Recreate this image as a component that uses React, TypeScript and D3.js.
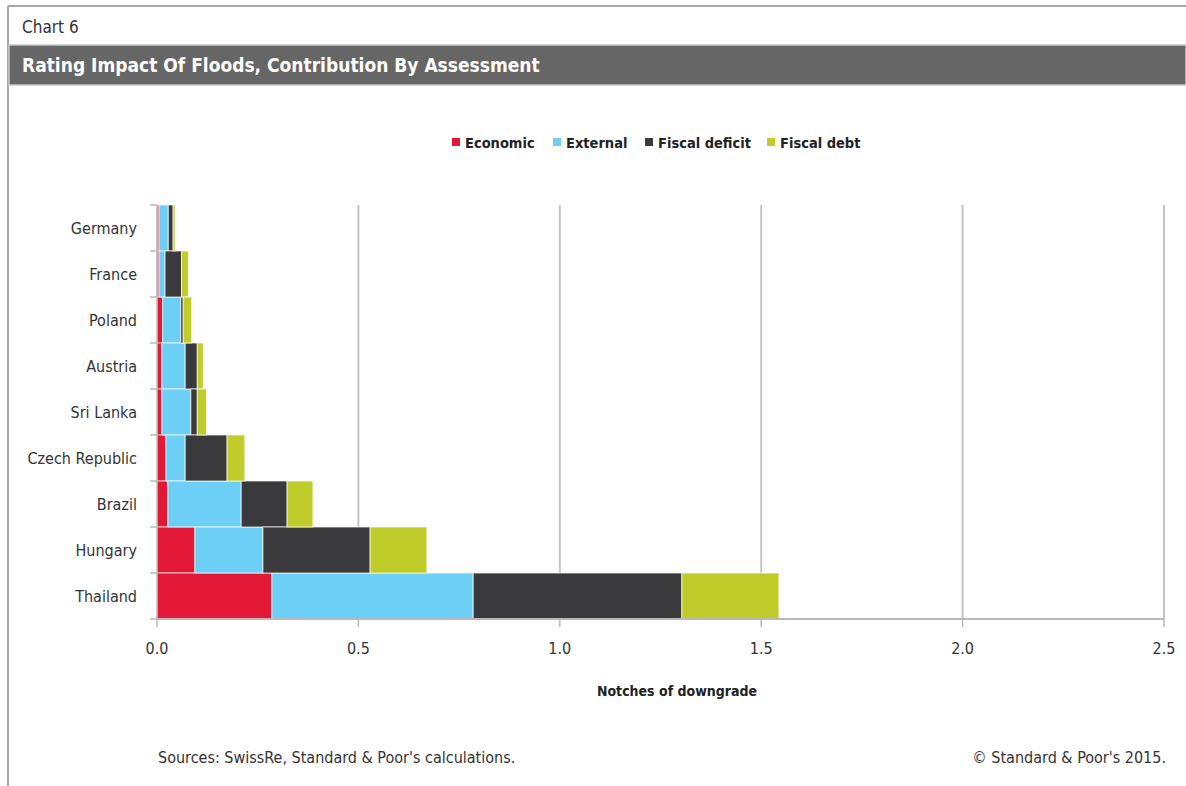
import React from "react";
import * as d3 from "d3";

const countries = ["Germany", "France", "Poland", "Austria", "Sri Lanka", "Czech Republic", "Brazil", "Hungary", "Thailand"];
const economic = [0.005, 0.005, 0.014, 0.012, 0.012, 0.022, 0.027, 0.094, 0.285];
const external = [0.023, 0.015, 0.045, 0.058, 0.072, 0.048, 0.182, 0.169, 0.5];
const fiscalDeficit = [0.012, 0.041, 0.006, 0.03, 0.016, 0.104, 0.114, 0.266, 0.518];
const fiscalDebt = [0.005, 0.017, 0.021, 0.015, 0.023, 0.044, 0.064, 0.141, 0.241];
const seriesNames = ["Economic", "External", "Fiscal deficit", "Fiscal debt"];
const seriesColors = ["#e31837", "#6dcff6", "#3a3a3c", "#bfcc2a"];
const xTicks = [0, 0.5, 1, 1.5, 2, 2.5];

const FONT = "'Liberation Sans Narrow', 'DejaVu Sans Condensed', 'Roboto', sans-serif";

export default function App() {
  const W = 1186;
  const H = 786;
  const x = d3.scaleLinear().domain([0, 2.5]).range([157, 1164]);
  const y = d3.scaleBand<string>().domain(countries).range([205, 619]).padding(0);

  const rows = countries.map((c, i) => ({
    country: c,
    "Economic": economic[i],
    "External": external[i],
    "Fiscal deficit": fiscalDeficit[i],
    "Fiscal debt": fiscalDebt[i],
  }));
  const stacked = d3.stack<any>().keys(seriesNames)(rows);

  const legendX = [452, 553, 645, 767];

  return (
    <svg width={W} height={H} style={{ position: "absolute", left: 0, top: 0, background: "#fff" }} fontFamily={FONT}>
      {/* frame */}
      <line x1={8} y1={6} x2={W} y2={6} stroke="#a8a8a8" strokeWidth={2} />
      <line x1={8} y1={6} x2={8} y2={H} stroke="#a8a8a8" strokeWidth={2} />
      <text x={22} y={33} fontSize={17} fill="#333">Chart 6</text>
      <rect x={9} y={45} width={W - 9} height={40} fill="#666" stroke="#c8c8c8" strokeWidth={1.5} />
      <text x={22} y={72} fontSize={19} fontWeight="bold" fill="#fff">Rating Impact Of Floods, Contribution By Assessment</text>

      {/* legend */}
      {seriesNames.map((s, i) => (
        <g key={s}>
          <rect x={legendX[i]} y={138} width={8} height={8} fill={seriesColors[i]} />
          <text x={legendX[i] + 13} y={147.5} fontSize={14.5} fontWeight="bold" fill="#222">{s}</text>
        </g>
      ))}

      {/* grid */}
      {xTicks.slice(1).map((t) => (
        <line key={t} x1={x(t)} x2={x(t)} y1={205} y2={619} stroke="#c4c4c4" strokeWidth={2} />
      ))}

      {/* bars */}
      {stacked.map((layer, si) => (
        <g key={layer.key} fill={seriesColors[si]}>
          {layer.map((d, i) => (
            <rect
              key={i}
              x={x(d[0])}
              y={y(countries[i])!}
              width={Math.max(0, x(d[1]) - x(d[0]))}
              height={y.bandwidth()}
              stroke="#ffffff"
              strokeOpacity={0.7}
              strokeWidth={1}
            />
          ))}
        </g>
      ))}

      {/* y axis */}
      <line x1={157} x2={157} y1={205} y2={619} stroke="#b8b8b8" strokeWidth={1.5} />
      {countries.map((c) => (
        <line key={c} x1={150} x2={157} y1={y(c)!} y2={y(c)!} stroke="#b8b8b8" strokeWidth={1.5} />
      ))}
      <line x1={150} x2={157} y1={619} y2={619} stroke="#b8b8b8" strokeWidth={1.5} />
      {countries.map((c) => (
        <text key={c} x={137} y={y(c)! + y.bandwidth() / 2 + 5.5} textAnchor="end" fontSize={16} fill="#333">{c}</text>
      ))}

      {/* x axis */}
      <line x1={157} x2={1164} y1={619} y2={619} stroke="#b8b8b8" strokeWidth={2} />
      {xTicks.map((t) => (
        <g key={t}>
          <line x1={x(t)} x2={x(t)} y1={619} y2={627} stroke="#b8b8b8" strokeWidth={1.5} />
          <text x={x(t)} y={654} textAnchor="middle" fontSize={16} fill="#333">{d3.format(".1f")(t)}</text>
        </g>
      ))}
      <text x={677} y={696} textAnchor="middle" fontSize={14} fontWeight="bold" fill="#222">Notches of downgrade</text>

      {/* footer */}
      <text x={158} y={763} fontSize={16} fill="#333">Sources: SwissRe, Standard &amp; Poor's calculations.</text>
      <text x={1166} y={763} textAnchor="end" fontSize={16} fill="#333">© Standard &amp; Poor's 2015.</text>
    </svg>
  );
}
